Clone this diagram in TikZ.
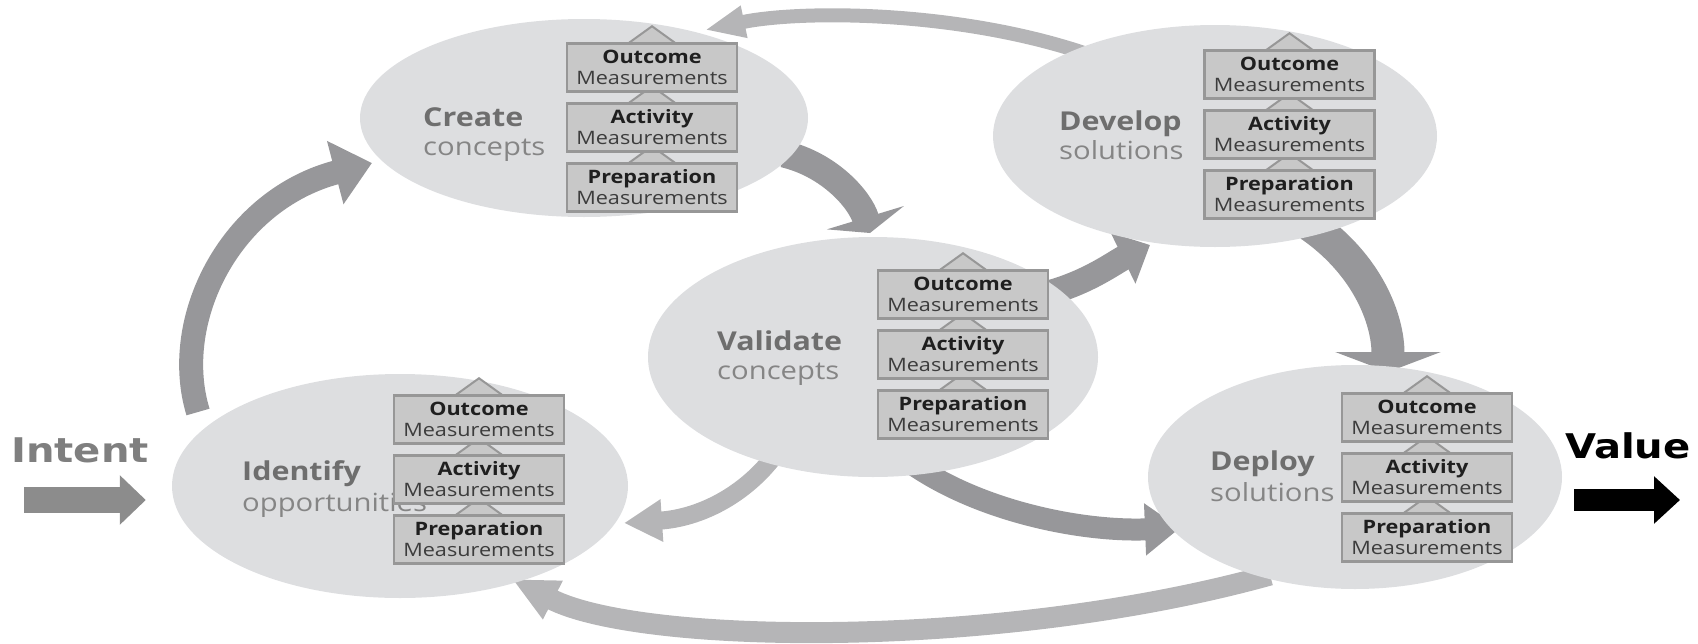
\documentclass[tikz,border=0pt]{standalone}
\usepackage{fontspec}
\setmainfont{Open Sans}[FakeStretch=1.17]
\newfontfamily\heavy{DejaVu Sans}[FakeStretch=1.18]
\usetikzlibrary{arrows.meta,shapes.geometric,calc}
\definecolor{ellfill}{HTML}{DDDEE0}
\definecolor{boxfill}{HTML}{C8C8C8}
\definecolor{boxline}{HTML}{979797}
\definecolor{darkarrow}{HTML}{97979A}
\definecolor{lightarrow}{HTML}{B5B5B7}
\definecolor{titlecol}{HTML}{6E6E6E}
\definecolor{subcol}{HTML}{858585}
\definecolor{meascol}{HTML}{3C3C3C}
\definecolor{intentcol}{HTML}{7F7F7F}
\pgfdeclarelayer{arrowlayer}
\pgfdeclarelayer{elllayer}
\pgfdeclarelayer{trilayer}
\pgfsetlayers{arrowlayer,elllayer,trilayer,main}
\newcommand\mtext[1]{{\bfseries\color{black!88}#1}\\Measurements}
\tikzset{
 phase/.style={ellipse, fill=ellfill, inner sep=0pt},
 mbox/.style={draw=boxline, line width=2.5pt, fill=boxfill, minimum width=170pt, minimum height=48pt, inner sep=0pt, align=center, text=meascol, font=\fontsize{18.5}{21}\selectfont},
 tri/.style={fill=boxfill, draw=boxline, line width=2pt, line join=miter},
 title/.style={anchor=base west, inner sep=0pt, text=titlecol, font=\fontsize{26}{30}\selectfont\bfseries},
 subtitle/.style={anchor=base west, inner sep=0pt, text=subcol, font=\fontsize{25}{30}\selectfont},
 darkflow/.style={draw=darkarrow, line width=#1},
 lightflow/.style={draw=lightarrow, line width=#1},
 bigword/.style={anchor=base west, inner sep=0pt, font=\fontsize{34}{40}\selectfont\heavy\bfseries},
}
\begin{document}
\begin{tikzpicture}[x=1pt,y=-1pt]
\useasboundingbox (0,0) rectangle (1698,643);
% phases
\begin{pgfonlayer}{elllayer}
\node[phase, minimum width=456pt, minimum height=224pt] (I) at (400,486) {};
\node[phase, minimum width=448pt, minimum height=198pt] (C) at (584,118) {};
\node[phase, minimum width=450pt, minimum height=240pt] (V) at (873,357) {};
\node[phase, minimum width=444pt, minimum height=222pt] (Dv) at (1215,136) {};
\node[phase, minimum width=414pt, minimum height=224pt] (Dp) at (1355,477) {};
\node[title] (It) at (242,480) {Identify};
\node[subtitle] (Is) at (242,511) {opportunities};
\node[title] (Ct) at (423,126) {Create};
\node[subtitle] (Cs) at (423,155) {concepts};
\node[title] (Vt) at (717,350) {Validate};
\node[subtitle] (Vs) at (717,379) {concepts};
\node[title] (Dvt) at (1059,130) {Develop};
\node[subtitle] (Dvs) at (1059,159) {solutions};
\node[title] (Dpt) at (1210,470) {Deploy};
\node[subtitle] (Dps) at (1210,501) {solutions};
\end{pgfonlayer}
% measurement boxes
\foreach \n/\x/\y in {C/652/67.5, V/963/294.5, Dv/1289.5/74.5, I/479/419.5, Dp/1427/417.5}{
  \node[mbox] (\n o) at (\x,\y) {\mtext{Outcome}};
  \node[mbox] (\n a) at (\x,\y+60) {\mtext{Activity}};
  \node[mbox] (\n p) at (\x,\y+120) {\mtext{Preparation}};
  \begin{pgfonlayer}{trilayer}
  \foreach \b in {o,a,p}{
    \draw[tri] ($(\n\b.north)+(-25,2)$) -- ($(\n\b.north)+(0,-16)$) -- ($(\n\b.north)+(25,2)$) -- cycle;
  }
  \end{pgfonlayer}
}
% Intent / Value
\node[bigword, text=intentcol] (intent) at (11,462) {Intent};
\node[bigword, text=black] (value) at (1565,458) {Value};
\coordinate (vend) at (1680,500);
\begin{pgfonlayer}{arrowlayer}
\draw[draw=intentcol!90, line width=26pt, -{Triangle[width=48pt,length=26pt]}] ($(intent.base west)+(13,38)$) -- ($(I.west)+(-26,14)$);
\draw[draw=black, line width=22pt, -{Triangle[width=46pt,length=26pt]}] ($(Dp.east)+(12,23)$) -- (vend);
% cycle arrows
\draw[darkflow=24pt, -{Triangle[width=63pt,length=38pt]}] ($(I.center)+(-202,-74)$) .. controls (170,320) and (230,200) .. ($(C.center)+(-212,45)$);
\draw[darkflow=27pt, -{Triangle[width=80pt,length=16pt]}] ($(C.center)+(200,36)$) .. controls (830,165) and (860,200) .. ($(V.center)+(-3,-124)$);
\draw[darkflow=25pt, -{Triangle[width=55pt,length=30pt]}] ($(V.center)+(167,-62)$) .. controls (1085,285) and (1115,262) .. ($(Dv.center)+(-65,109)$);
\draw[darkflow=33pt, -{Triangle[width=105pt,length=20pt]}] ($(Dv.center)+(95,89)$) .. controls (1368,265) and (1388,320) .. ($(Dp.center)+(33,-105)$);
\draw[darkflow=22pt, -{Triangle[width=50pt,length=35pt]}] ($(V.center)+(27,98)$) .. controls (970,510) and (1080,532) .. ($(Dp.center)+(-175,51)$);
\draw[lightflow=18pt, -{Triangle[width=40pt,length=38pt]}] ($(V.center)+(-98,98)$) .. controls (745,495) and (700,518) .. ($(I.center)+(224,37)$);
\draw[lightflow=14pt, -{Triangle[width=30pt,length=40pt]}] ($(Dv.center)+(-125,-81)$) .. controls (960,10) and (800,10) .. ($(C.center)+(121,-88)$);
\draw[lightflow=21pt, -{Triangle[width=40pt,length=46pt]}] ($(Dp.center)+(-85,98)$) .. controls (1000,650) and (640,645) .. ($(I.center)+(112,93)$);
\end{pgfonlayer}
\end{tikzpicture}
\end{document}
